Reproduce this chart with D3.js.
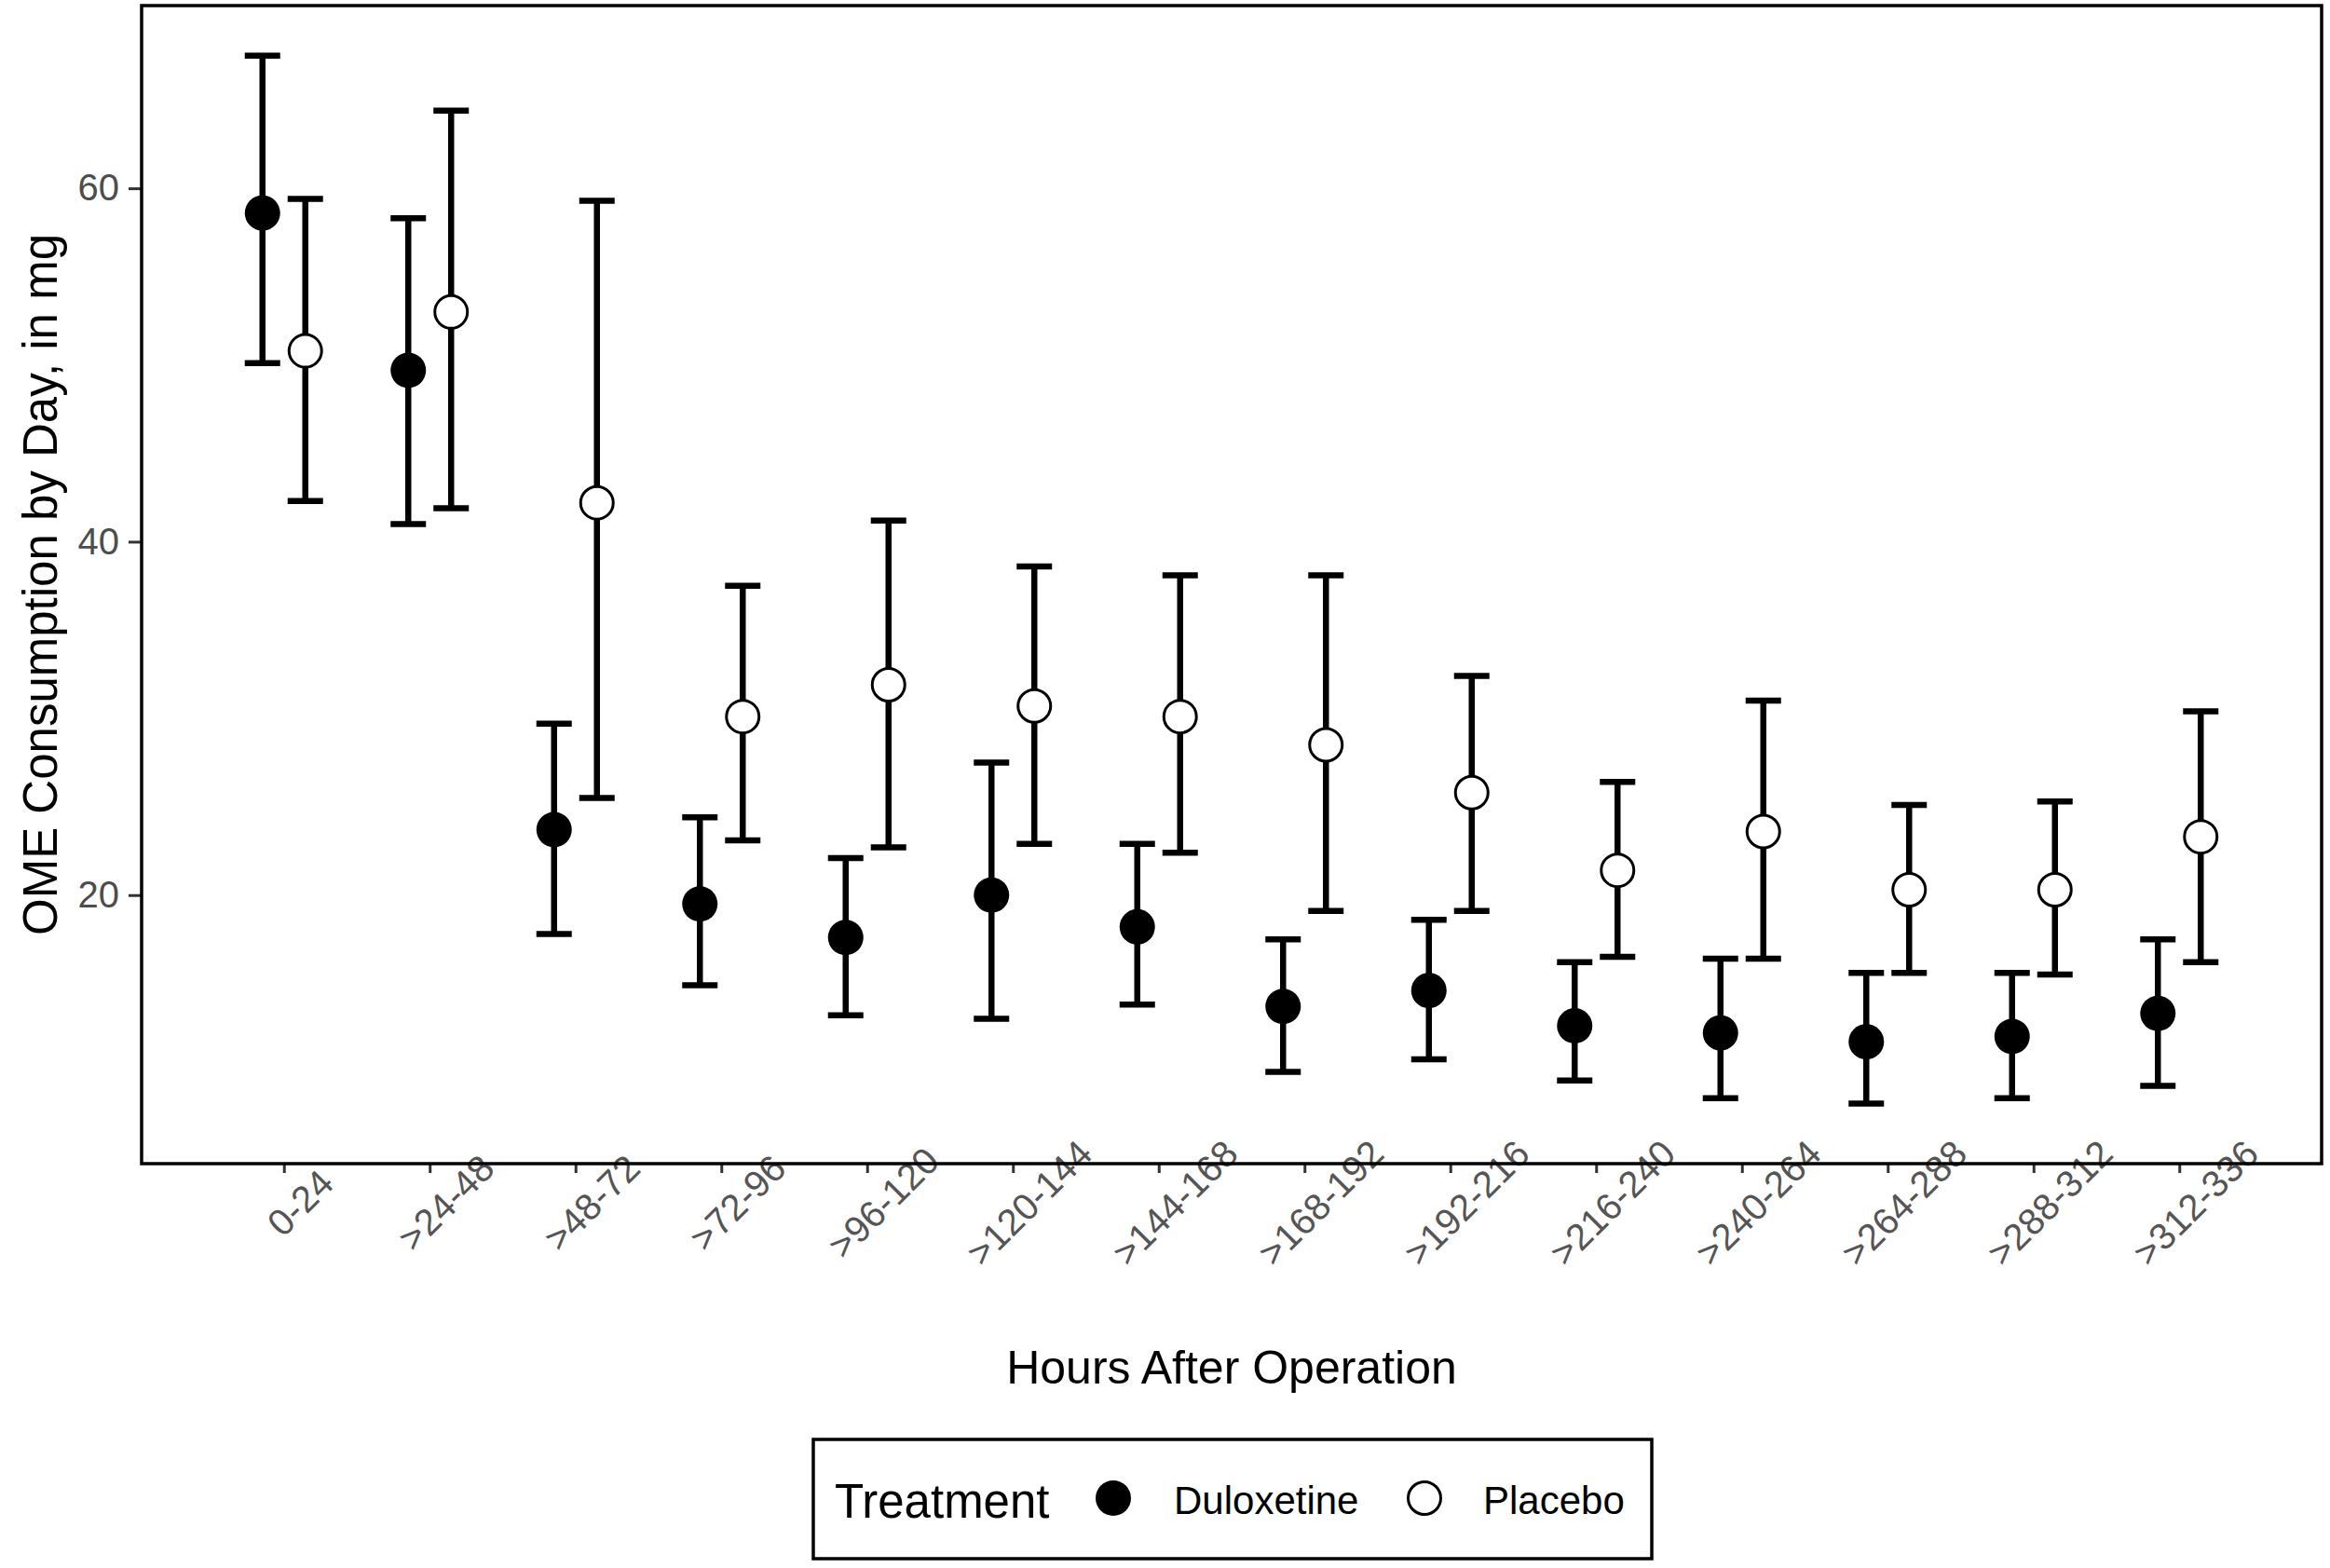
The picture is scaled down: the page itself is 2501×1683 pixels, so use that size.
<!DOCTYPE html>
<html>
<head>
<meta charset="utf-8">
<script src="https://cdn.jsdelivr.net/npm/d3@7"></script>
<style>
  body { margin: 0; background: #fff; }
  text { font-family: "Liberation Sans", Arial, sans-serif; }
</style>
</head>
<body>
<script>
var categories = ["0-24", ">24-48", ">48-72", ">72-96", ">96-120", ">120-144", ">144-168",
  ">168-192", ">192-216", ">216-240", ">240-264", ">264-288", ">288-312", ">312-336"]

// Duloxetine: mean and error bar ends
var dulMean  = [58.6, 49.7, 23.7, 19.5, 17.6, 20.0, 18.2, 13.7, 14.6, 12.6, 12.2, 11.7, 12.0, 13.3]
var dulLower = [50.1, 41.0, 17.8, 14.9, 13.2, 13.0, 13.8, 10.0, 10.7,  9.5,  8.5,  8.2,  8.5,  9.2]
var dulUpper = [67.5, 58.3, 29.7, 24.4, 22.1, 27.5, 22.9, 17.5, 18.6, 16.2, 16.4, 15.6, 15.6, 17.5]

// Placebo
var plaMean  = [50.8, 53.0, 42.2, 30.1, 31.9, 30.7, 30.1, 28.5, 25.8, 21.4, 23.6, 20.3, 20.3, 23.3]
var plaLower = [42.3, 41.9, 25.5, 23.1, 22.7, 22.9, 22.4, 19.1, 19.1, 16.5, 16.4, 15.6, 15.5, 16.2]
var plaUpper = [59.4, 64.4, 59.3, 37.5, 41.2, 38.6, 38.1, 38.1, 32.4, 26.4, 31.0, 25.1, 25.3, 30.4]

var yTicks = [20, 40, 60]
var groups = ["Duloxetine", "Placebo"]

var W = 2501, H = 1683
var panelL = 152, panelR = 2492, panelT = 6, panelB = 1249

var svg = d3.select("body").append("svg")
  .attr("width", W)
  .attr("height", H)

svg.append("rect").attr("width", W).attr("height", H).attr("fill", "#fff")

var x = d3.scalePoint()
  .domain(categories)
  .range([panelL, panelR])
  .padding(0.976)

var y = d3.scaleLinear()
  .domain([4.8, 70.34])
  .range([panelB, panelT])

var dodge = d3.scalePoint().domain(groups).range([-23, 23])

// build rows for the marks
var rows = []
categories.forEach(function(c, i) {
  rows.push({ cat: c, grp: "Duloxetine", m: dulMean[i], lo: dulLower[i], hi: dulUpper[i] })
  rows.push({ cat: c, grp: "Placebo", m: plaMean[i], lo: plaLower[i], hi: plaUpper[i] })
})

function cx(d) { return x(d.cat) + dodge(d.grp) }

// axes
var yAxis = svg.append("g")
  .attr("transform", "translate(" + panelL + ",0)")
  .call(d3.axisLeft(y).tickValues(yTicks).tickSize(14).tickPadding(10))
yAxis.select(".domain").remove()
yAxis.selectAll(".tick line").attr("stroke", "#333").attr("stroke-width", 3)
yAxis.selectAll(".tick text")
  .attr("fill", "#4d4d4d")
  .style("font-size", "40px")
  .style("font-family", "'Liberation Sans', Arial, sans-serif")

var xAxis = svg.append("g")
  .attr("transform", "translate(0," + panelB + ")")
  .call(d3.axisBottom(x).tickSize(10))
xAxis.select(".domain").remove()
xAxis.selectAll(".tick line").attr("stroke", "#333").attr("stroke-width", 3)
xAxis.selectAll(".tick text")
  .attr("fill", "#555")
  .attr("x", 0).attr("y", 0).attr("dy", null)
  .attr("text-anchor", "middle")
  .attr("dominant-baseline", "central")
  .attr("transform", "translate(17,42) rotate(-45)")
  .style("font-size", "40px")
  .style("font-family", "'Liberation Sans', Arial, sans-serif")

// error bars
var eb = svg.append("g").attr("stroke", "#000").attr("stroke-width", 6.5)
eb.selectAll("line.stem").data(rows).enter().append("line")
  .attr("class", "stem")
  .attr("x1", cx).attr("x2", cx)
  .attr("y1", function(d) { return y(d.lo) })
  .attr("y2", function(d) { return y(d.hi) })
eb.selectAll("line.capHi").data(rows).enter().append("line")
  .attr("class", "capHi")
  .attr("x1", function(d) { return cx(d) - 19 })
  .attr("x2", function(d) { return cx(d) + 19 })
  .attr("y1", function(d) { return y(d.hi) })
  .attr("y2", function(d) { return y(d.hi) })
eb.selectAll("line.capLo").data(rows).enter().append("line")
  .attr("class", "capLo")
  .attr("x1", function(d) { return cx(d) - 19 })
  .attr("x2", function(d) { return cx(d) + 19 })
  .attr("y1", function(d) { return y(d.lo) })
  .attr("y2", function(d) { return y(d.lo) })

// points
svg.append("g").selectAll("circle").data(rows).enter().append("circle")
  .attr("cx", cx)
  .attr("cy", function(d) { return y(d.m) })
  .attr("r", function(d) { return d.grp === "Duloxetine" ? 19 : 17.5 })
  .attr("fill", function(d) { return d.grp === "Duloxetine" ? "#000" : "#fff" })
  .attr("stroke", "#000")
  .attr("stroke-width", function(d) { return d.grp === "Duloxetine" ? 0 : 3 })

// panel border
svg.append("rect")
  .attr("x", panelL).attr("y", panelT)
  .attr("width", panelR - panelL).attr("height", panelB - panelT)
  .attr("fill", "none").attr("stroke", "#000").attr("stroke-width", 3.5)

// axis titles
svg.append("text")
  .attr("x", (panelL + panelR) / 2).attr("y", 1485)
  .attr("text-anchor", "middle")
  .style("font-size", "50px")
  .attr("fill", "#000")
  .text("Hours After Operation")

svg.append("text")
  .attr("transform", "translate(61," + (panelT + panelB) / 2 + ") rotate(-90)")
  .attr("text-anchor", "middle")
  .style("font-size", "51px")
  .attr("fill", "#000")
  .text("OME Consumption by Day, in mg")

// legend
var lg = svg.append("g")
lg.append("rect")
  .attr("x", 873).attr("y", 1545).attr("width", 900).attr("height", 128)
  .attr("fill", "#fff").attr("stroke", "#000").attr("stroke-width", 3.5)
lg.append("text")
  .attr("x", 896).attr("y", 1629)
  .style("font-size", "51px")
  .text("Treatment")
lg.append("circle").attr("cx", 1195).attr("cy", 1608).attr("r", 19).attr("fill", "#000")
lg.append("text")
  .attr("x", 1260).attr("y", 1625)
  .style("font-size", "42px")
  .text(groups[0])
lg.append("circle").attr("cx", 1529).attr("cy", 1608).attr("r", 17.5)
  .attr("fill", "#fff").attr("stroke", "#000").attr("stroke-width", 3)
lg.append("text")
  .attr("x", 1592).attr("y", 1625)
  .style("font-size", "42px")
  .text(groups[1])
</script>
</body>
</html>
